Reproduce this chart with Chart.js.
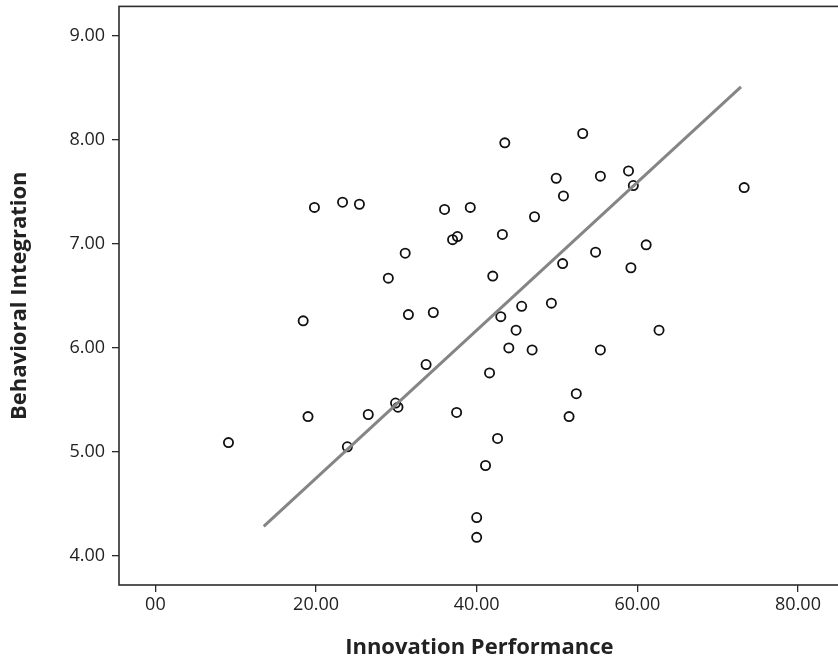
<!DOCTYPE html>
<html>
<head>
<meta charset="utf-8">
<script src="https://cdn.jsdelivr.net/npm/chart.js@4"></script>
<style>
  html, body { margin: 0; padding: 0; background: #fff; overflow: hidden; }
  #chart { display: block; }
</style>
</head>
<body>
<canvas id="chart" width="846" height="663"></canvas>
<script>
// Innovation Performance (x) vs Behavioral Integration (y)
const innovation = [
    19.8, 23.3, 25.4, 36.0, 39.2, 37.0, 37.6, 31.1, 29.0, 31.5,
    34.6, 18.4, 43.5, 53.2, 49.9, 55.4, 58.9, 59.5, 50.8, 73.3,
    47.2, 43.2, 61.1, 54.8, 50.7, 59.2, 42.0, 49.3, 45.6, 43.0,
    44.9, 62.7, 44.0, 46.9, 55.4, 41.6, 52.4, 51.5, 42.6, 41.1,
    40.0, 40.0, 33.7, 19.0, 26.5, 29.9, 30.2, 37.5, 23.9, 9.1
];
const integration = [
    7.35, 7.40, 7.38, 7.33, 7.35, 7.04, 7.07, 6.91, 6.67, 6.32,
    6.34, 6.26, 7.97, 8.06, 7.63, 7.65, 7.70, 7.56, 7.46, 7.54,
    7.26, 7.09, 6.99, 6.92, 6.81, 6.77, 6.69, 6.43, 6.40, 6.30,
    6.17, 6.17, 6.00, 5.98, 5.98, 5.76, 5.56, 5.34, 5.13, 4.87,
    4.37, 4.18, 5.84, 5.34, 5.36, 5.47, 5.43, 5.38, 5.05, 5.09
];

// fit line end points
const fitX = [13.49, 72.9];
const fitY = [4.286, 8.507];

const xTicks = [0, 20, 40, 60, 80];
const xTickLabels = ['00', '20.00', '40.00', '60.00', '80.00'];
const yTicks = [4, 5, 6, 7, 8, 9];
const yTickLabels = ['4.00', '5.00', '6.00', '7.00', '8.00', '9.00'];

const inkColour = '#2b2b2b';
const tickFont = { family: '"Open Sans", sans-serif', size: 18 };
const titleFont = { family: '"Open Sans", sans-serif', size: 22, weight: 'bold' };

const framePlugin = {
    id: 'frame',
    afterDraw(chart) {
        const { ctx, chartArea } = chart;
        ctx.save();
        ctx.strokeStyle = inkColour;
        ctx.lineWidth = 1.6;
        ctx.strokeRect(chartArea.left, chartArea.top, chartArea.right - chartArea.left, chartArea.bottom - chartArea.top);
        ctx.restore();
    }
};

const points = innovation.map((x, i) => ({ x: x, y: integration[i] }));
const fitLine = fitX.map((x, i) => ({ x: x, y: fitY[i] }));

new Chart(document.getElementById('chart').getContext('2d'), {
    type: 'scatter',
    data: {
        datasets: [
            {
                type: 'line',
                data: fitLine,
                borderColor: '#858585',
                borderWidth: 3,
                pointRadius: 0,
                fill: false
            },
            {
                data: points,
                pointRadius: 4.6,
                pointBorderWidth: 1.8,
                pointBorderColor: '#111',
                pointBackgroundColor: 'rgba(0,0,0,0)'
            }
        ]
    },
    options: {
        responsive: false,
        devicePixelRatio: 1,
        animation: false,
        layout: { padding: { top: 5, right: 0, left: 0, bottom: 0 } },
        plugins: { legend: { display: false }, tooltip: { enabled: false } },
        scales: {
            x: {
                type: 'linear',
                min: -4.53,
                max: 85.18,
                afterBuildTicks: scale => { scale.ticks = xTicks.map(v => ({ value: v })); },
                afterFit: scale => {
                    scale.height = 78;
                    scale.paddingLeft = 0;
                    scale.paddingRight = 0;
                },
                border: { display: false },
                grid: { drawOnChartArea: false, drawTicks: true, tickLength: 7, color: inkColour, lineWidth: 1.3 },
                ticks: {
                    color: '#222',
                    font: tickFont,
                    padding: 2,
                    maxRotation: 0,
                    callback: value => xTickLabels[xTicks.indexOf(value)]
                },
                title: {
                    display: true,
                    text: 'Innovation Performance',
                    color: '#222',
                    font: titleFont,
                    padding: { top: 2, bottom: 2 }
                }
            },
            y: {
                type: 'linear',
                min: 3.722,
                max: 9.281,
                afterBuildTicks: scale => { scale.ticks = yTicks.map(v => ({ value: v })); },
                afterFit: scale => {
                    scale.width = 119;
                    scale.paddingTop = 0;
                    scale.paddingBottom = 0;
                },
                border: { display: false },
                grid: { drawOnChartArea: false, drawTicks: true, tickLength: 7, color: inkColour, lineWidth: 1.3 },
                ticks: {
                    color: '#222',
                    font: tickFont,
                    padding: 7,
                    callback: value => yTickLabels[yTicks.indexOf(value)]
                },
                title: {
                    display: true,
                    text: 'Behavioral Integration',
                    color: '#222',
                    font: titleFont,
                    padding: { top: 7, bottom: 7 }
                }
            }
        }
    },
    plugins: [framePlugin]
});
</script>
</body>
</html>
